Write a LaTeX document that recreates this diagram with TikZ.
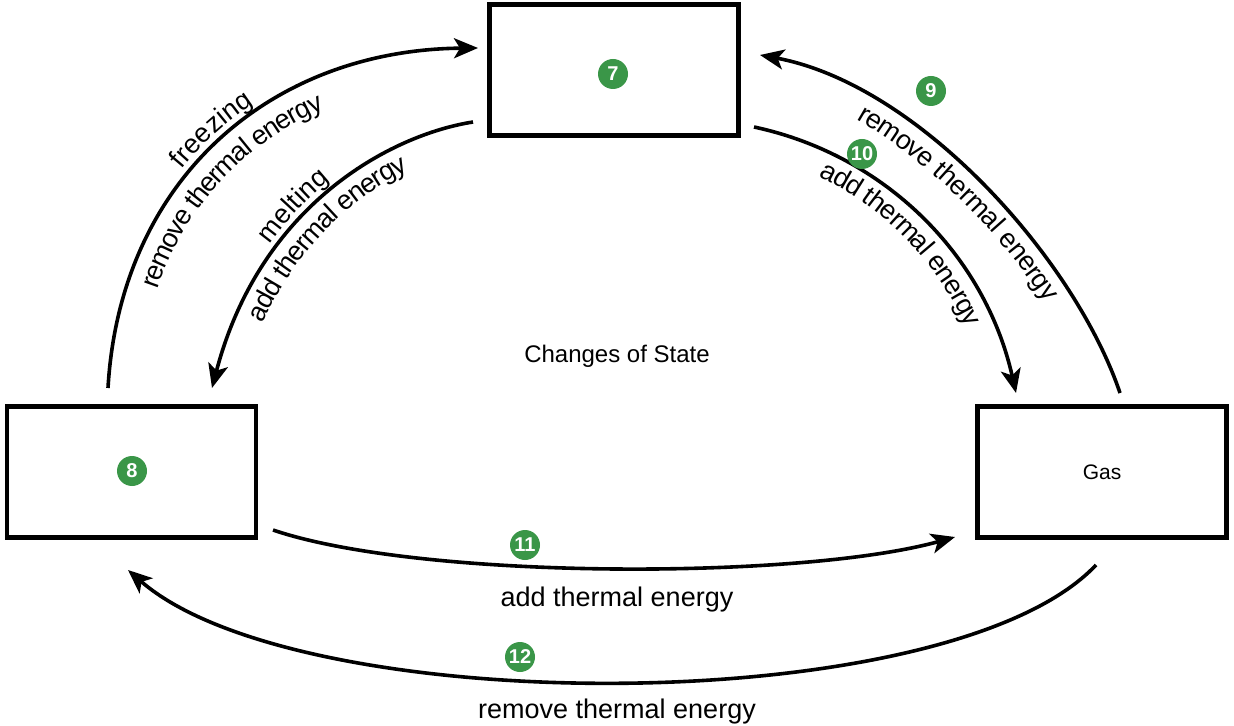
\documentclass[tikz,border=0pt]{standalone}
\usepackage{fontspec}
\setmainfont{Liberation Sans}
\usetikzlibrary{arrows.meta,decorations.text}
\newcommand{\lblfont}{\fontsize{13.5}{16}\selectfont}
\definecolor{badgegreen}{RGB}{58,150,72}
\tikzset{
	statebox/.style={draw, line width=2.2pt, minimum width=124.5pt, minimum height=65.5pt, inner sep=0pt},
	badge/.style={circle, fill=badgegreen, text=white, font=\bfseries\fontsize{10}{10}\selectfont, minimum size=15pt, inner sep=0pt},
	change/.style={line width=1.8pt, -{Stealth[length=12pt, width=10pt, inset=3pt]}},
	curvetext/.style 2 args={decorate, decoration={text along path, text align=center, raise=#2, text={|\lblfont|#1}}}
}
\begin{document}
\begin{tikzpicture}[x=0.5pt, y=-0.5pt]
			\useasboundingbox (0,0) rectangle (1234,726);

			\node[statebox] (solid) at (614, 70) {};
			\node[statebox] (liquid) at (131.5, 472) {};
			\node[statebox] (gas) at (1102, 472) {\fontsize{10.5}{13}\selectfont Gas};
			\node[font=\fontsize{12}{14}\selectfont] (title) at (617, 356) {Changes of State};

			\coordinate (fz0) at (108, 388);
			\coordinate (fz1) at (478, 48);
			\coordinate (mt0) at (473, 122);
			\coordinate (mt1) at (212, 388);
			\coordinate (cd0) at (1120, 393);
			\coordinate (cd1) at (760, 55);
			\coordinate (ev0) at (754, 127);
			\coordinate (ev1) at (1016, 393);
			\coordinate (bl0) at (273, 530);
			\coordinate (bl1) at (955, 537);
			\coordinate (cn0) at (1096, 565);
			\coordinate (cn1) at (128, 570);

			\draw[change] (fz0) .. controls (120, 180) and (270, 50) .. (fz1);
			\draw[change] (mt0) .. controls (390, 135) and (260, 205) .. (mt1);
			\draw[change] (cd0) .. controls (1075, 260) and (920, 85) .. (cd1);
			\draw[change] (ev0) .. controls (885, 155) and (985, 255) .. (ev1);
			\draw[change] (bl0) .. controls (420, 580) and (800, 580) .. (bl1);
			\draw[change] (cn0) .. controls (950, 720) and (300, 720) .. (cn1);

			\path[curvetext={freezing}{4pt}] (fz0) .. controls (120, 180) and (270, 50) .. (fz1);
			\path[curvetext={remove thermal energy}{-15pt}, decoration={post length=30pt}] (fz0) .. controls (120, 180) and (270, 50) .. (fz1);
			\path[curvetext={melting}{4pt}] (mt1) .. controls (260, 205) and (390, 135) .. (mt0);
			\path[curvetext={add thermal energy}{-13pt}] (mt1) .. controls (260, 205) and (390, 135) .. (mt0);
			\path[curvetext={remove thermal energy}{-13pt}] (cd1) .. controls (920, 85) and (1075, 260) .. (cd0);
			\path[curvetext={add thermal energy}{-13pt}] (ev0) .. controls (885, 155) and (985, 255) .. (ev1);

			\node[font=\lblfont] (addlbl) at (617, 600) {add thermal energy};
			\node[font=\lblfont] (remlbl) at (617, 712) {remove thermal energy};

			\node[badge] (b7) at (613, 74) {7};
			\node[badge] (b8) at (132, 471) {8};
			\node[badge] (b9) at (931, 91) {9};
			\node[badge] (b10) at (862, 154) {10};
			\node[badge] (b11) at (525, 545) {11};
			\node[badge] (b12) at (520, 657) {12};
		\end{tikzpicture}
\end{document}
